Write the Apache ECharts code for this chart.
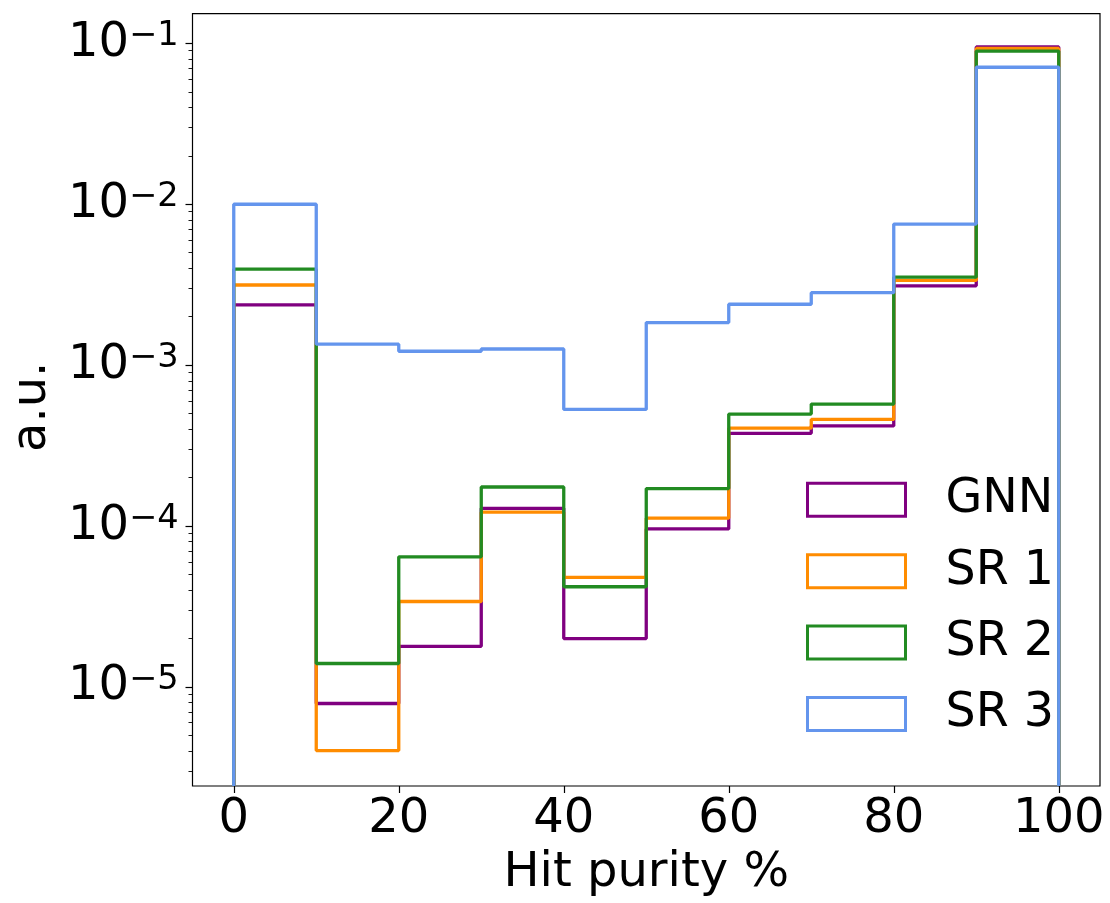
<!DOCTYPE html>
<html>
<head>
<meta charset="utf-8">
<script src="https://cdn.jsdelivr.net/npm/echarts@6/dist/echarts.min.js"></script>
<style>
  html, body { margin: 0; padding: 0; background: #fff; }
  #chart { width: 1110px; height: 903px; }
</style>
</head>
<body>
<div id="chart"></div>
<script>
// ---- data ----
const binEdges = [0, 10, 20, 30, 40, 50, 60, 70, 80, 90, 100];
const seriesNames = ['GNN', 'SR 1', 'SR 2', 'SR 3'];
const gnn = [2.37e-3, 7.9e-6, 1.79e-5, 1.29e-4, 2.0e-5, 9.6e-5, 3.77e-4, 4.19e-4, 3.11e-3, 9.5e-2];
const sr1 = [3.15e-3, 4.03e-6, 3.4e-5, 1.22e-4, 4.8e-5, 1.12e-4, 4.06e-4, 4.6e-4, 3.36e-3, 9.3e-2];
const sr2 = [3.95e-3, 1.40e-5, 6.44e-5, 1.75e-4, 4.2e-5, 1.71e-4, 4.97e-4, 5.73e-4, 3.52e-3, 8.95e-2];
const sr3 = [1.0e-2, 1.35e-3, 1.22e-3, 1.26e-3, 5.31e-4, 1.84e-3, 2.39e-3, 2.82e-3, 7.53e-3, 7.1e-2];
const xTickValues = [0, 20, 40, 60, 80, 100];
const yMajorExponents = [-5, -4, -3, -2, -1];
const xAxisTitle = 'Hit purity %';
const yAxisTitle = 'a.u.';

// ---- axis ranges / styles ----
const X_MIN = -5, X_MAX = 105;
const Y_MIN = Math.pow(10, -5.615), Y_MAX = Math.pow(10, -0.816);
const colors = ['#800080', '#ff8c00', '#228b22', '#6495ed'];
const FONT = 'DejaVu Sans';

const allValues = [gnn, sr1, sr2, sr3];

// histogram step outline: up at first edge, steps, down at last edge
function stepData(vals) {
  const d = [[binEdges[0], Y_MIN]];
  vals.forEach((v, i) => d.push([binEdges[i], v]));
  d.push([binEdges[binEdges.length - 1], Y_MIN]);
  return d;
}

const yMajor = yMajorExponents.map(e => Math.pow(10, e));
const yMinor = [];
for (let e = -7; e <= 0; e++) {
  for (let k = 2; k <= 9; k++) {
    const v = k * Math.pow(10, e);
    if (v > Y_MIN && v < Y_MAX) yMinor.push(v);
  }
}

const chart = echarts.init(document.getElementById('chart'), null, { renderer: 'canvas' });

const option = {
  animation: false,
  backgroundColor: '#fff',
  textStyle: { fontFamily: FONT },
  grid: {
    left: 192.5, right: 10, top: 13.7, bottom: 116.7,
    show: true, borderColor: '#000', borderWidth: 1.2, backgroundColor: 'transparent',
    containLabel: false
  },
  legend: {
    orient: 'vertical',
    left: 806, top: 475.8,
    padding: 0,
    itemWidth: 98, itemHeight: 33, itemGap: 23.4,
    icon: 'rect',
    textStyle: { fontFamily: FONT, fontSize: 47.5, color: '#000', padding: [0, 0, 0, 35] },
    data: seriesNames.map((n, i) => ({
      name: n,
      itemStyle: { color: '#fff', borderColor: colors[i], borderWidth: 3 }
    }))
  },
  xAxis: {
    type: 'value', min: X_MIN, max: X_MAX,
    axisLine: { show: false, onZero: false },
    splitLine: { show: false },
    axisTick: { show: true, customValues: xTickValues, length: 7, lineStyle: { color: '#000', width: 1.2 } },
    axisLabel: { customValues: xTickValues, fontFamily: FONT, fontSize: 48, color: '#000', margin: 10, lineHeight: 48 },
    name: xAxisTitle, nameLocation: 'middle', nameGap: 64,
    nameTextStyle: { fontFamily: FONT, fontSize: 48, color: '#000', lineHeight: 48 }
  },
  yAxis: [
    {
      type: 'log', logBase: 10, min: Y_MIN, max: Y_MAX, position: 'left',
      axisLine: { show: false, onZero: false },
      splitLine: { show: false },
      axisTick: { show: true, customValues: yMajor, length: 7, lineStyle: { color: '#000', width: 1.2 } },
      axisLabel: {
        customValues: yMajor,
        margin: 14,
        formatter: function (v) {
          const e = Math.round(Math.log10(v));
          const s = e < 0 ? '\u2212' + (-e) : String(e);
          return '{b|10}{s|' + s + '}';
        },
        rich: {
          b: { fontFamily: FONT, fontSize: 48, color: '#000', lineHeight: 48 },
          s: { fontFamily: FONT, fontSize: 33.6, color: '#000', lineHeight: 20, verticalAlign: 'top' }
        }
      },
      name: yAxisTitle, nameLocation: 'middle', nameRotate: 90, nameGap: 125,
      nameTextStyle: { fontFamily: FONT, fontSize: 48, color: '#000', lineHeight: 48, padding: [0, 14, 0, 0] }
    },
    {
      type: 'log', logBase: 10, min: Y_MIN, max: Y_MAX, position: 'left',
      axisLine: { show: false, onZero: false },
      splitLine: { show: false },
      axisLabel: { show: false },
      axisTick: { show: true, customValues: yMinor, length: 4, lineStyle: { color: '#000', width: 0.9 } }
    }
  ],
  series: allValues.map((vals, i) => ({
    name: seriesNames[i],
    type: 'line',
    step: 'end',
    symbol: 'none',
    clip: true,
    data: stepData(vals),
    lineStyle: { color: colors[i], width: 3.3 },
    itemStyle: { color: colors[i] },
    emphasis: { disabled: true }
  }))
};

chart.setOption(option);
</script>
</body>
</html>
